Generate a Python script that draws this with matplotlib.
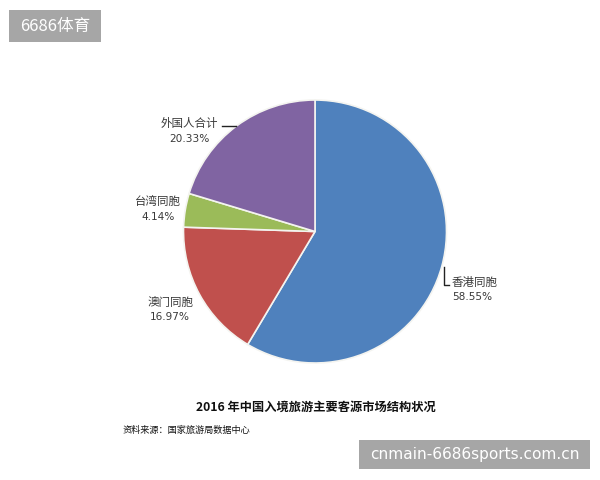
import matplotlib
matplotlib.use("Agg")
import matplotlib.pyplot as plt
from matplotlib.patches import Rectangle

plt.rcParams['font.family'] = ['Noto Sans CJK SC', 'DejaVu Sans']

categories = ["香港同胞", "澳门同胞", "台湾同胞", "外国人合计"]
shares = [58.55, 16.97, 4.14, 20.33]
colors = ["#4F81BD", "#C0504D", "#9BBB59", "#8064A2"]
title = "2016 年中国入境旅游主要客源市场结构状况"
source = "资料来源：国家旅游局数据中心"
wm_top = "6686体育"
wm_bottom = "cnmain-6686sports.com.cn"

W, H = 600, 480
fig = plt.figure(figsize=(6, 4.8), dpi=100)
ax = fig.add_axes([0, 0, 1, 1])


def Y(y):
    return H - y


cx, cy, r = 315, 231.5, 131.5
ax.pie(shares, colors=colors, startangle=90, counterclock=False,
       center=(cx, Y(cy)), radius=r,
       wedgeprops=dict(edgecolor="#f4f4f0", linewidth=1.2))
ax.set_xlim(0, W)
ax.set_ylim(0, H)
ax.set_aspect('equal')
ax.axis('off')

lab_col = "#3a3a3a"
# label positions (pixel coords of name / percent)
label_pos = {
    "香港同胞": ((475, 282), (472, 297)),
    "澳门同胞": ((171, 302), (170, 317)),
    "台湾同胞": ((158, 202), (158, 217)),
    "外国人合计": ((189, 123), (189, 139)),
}
for cat, val in zip(categories, shares):
    (nx, ny), (px, py) = label_pos[cat]
    ax.text(nx, Y(ny), cat, ha='center', va='center', fontsize=8.3, color=lab_col)
    ax.text(px, Y(py), f"{val:.2f}%", ha='center', va='center', fontsize=7.6, color=lab_col,
            family=['DejaVu Sans'])

# leader lines
ax.plot([222, 236], [Y(126), Y(126)], color="#222222", lw=1.0)
ax.plot([443.5, 443.5, 449], [Y(267), Y(285), Y(285)], color="#222222", lw=1.0)

ax.text(316, Y(407), title, ha='center', va='center', fontsize=8.8,
        fontweight='bold', color="#111111")
ax.text(123, Y(430), source, ha='left', va='center', fontsize=6.6, color="#111111")

# watermarks
ax.add_patch(Rectangle((9, Y(42)), 92, 32, facecolor="#a6a6a6", edgecolor='none'))
ax.text(55, Y(26), wm_top, ha='center', va='center', fontsize=12, color='white')
ax.add_patch(Rectangle((359, Y(469)), 231, 29, facecolor="#a6a6a6", edgecolor='none'))
ax.text(474.5, Y(454.5), wm_bottom, ha='center', va='center', fontsize=11.1,
        color='white', family=['DejaVu Sans'])

fig.savefig("out.png", dpi=100)
